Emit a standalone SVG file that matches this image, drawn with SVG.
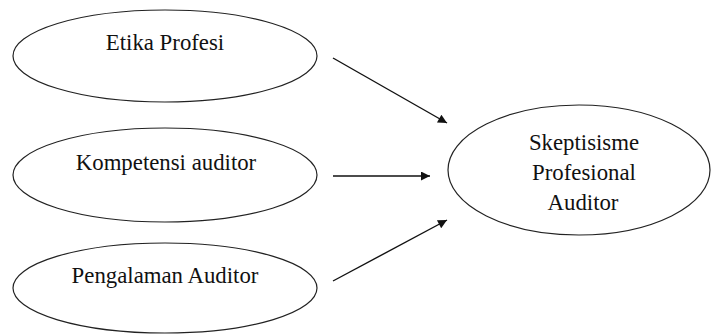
<svg xmlns="http://www.w3.org/2000/svg" width="712" height="334" viewBox="0 0 712 334">
<style>
.node ellipse{fill:#fff;stroke:#222;stroke-width:1.2}
.lbl{font-family:'Liberation Serif','Times New Roman',Times,serif;font-size:22.8px;fill:#111;text-anchor:middle}
.conn line{stroke:#111;stroke-width:1.4}
</style>
<defs>
<marker id="ah" viewBox="0 0 10 10" refX="10" refY="5" markerWidth="11" markerHeight="9" markerUnits="userSpaceOnUse" orient="auto">
<path d="M0,0 L10,5 L0,10 Z" fill="#111"/>
</marker>
</defs>
<rect width="712" height="334" fill="#fff"/>
<g id="etika" class="node">
<ellipse cx="165" cy="56" rx="152" ry="46"/>
<text class="lbl" x="165" y="50">Etika Profesi</text>
</g>
<g id="kompetensi" class="node">
<ellipse cx="165" cy="175" rx="152" ry="47"/>
<text class="lbl" x="166" y="170">Kompetensi auditor</text>
</g>
<g id="pengalaman" class="node">
<ellipse cx="165" cy="288" rx="152" ry="45"/>
<text class="lbl" x="165" y="283">Pengalaman Auditor</text>
</g>
<g id="skeptisisme" class="node">
<ellipse cx="579" cy="170" rx="131" ry="65"/>
<text class="lbl" x="584" y="150">Skeptisisme</text>
<text class="lbl" x="584" y="180">Profesional</text>
<text class="lbl" x="583" y="210">Auditor</text>
</g>
<g id="connectors" class="conn">
<line x1="333" y1="58" x2="447" y2="123" marker-end="url(#ah)"/>
<line x1="333" y1="176" x2="430" y2="176" marker-end="url(#ah)"/>
<line x1="333" y1="281" x2="447" y2="220" marker-end="url(#ah)"/>
</g>
</svg>
